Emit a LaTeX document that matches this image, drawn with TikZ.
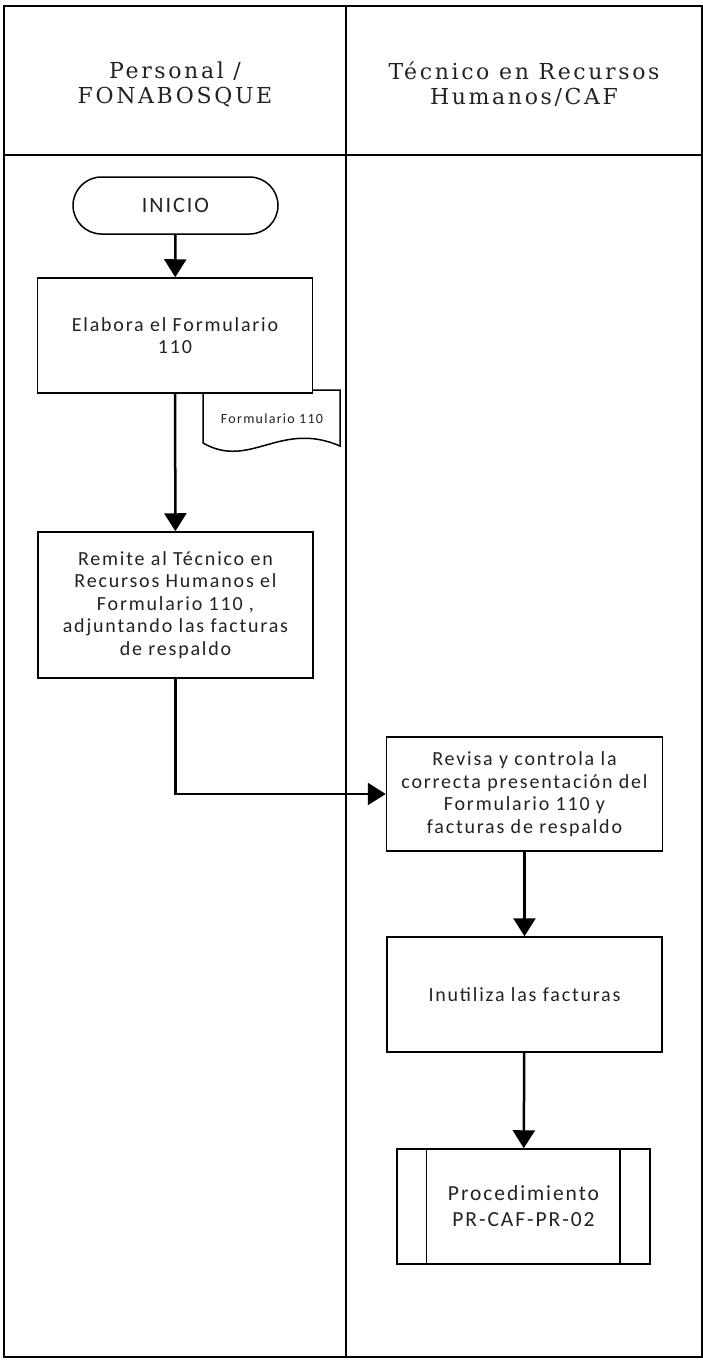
\documentclass[tikz,border=0pt]{standalone}
\usepackage{fontspec}
\setmainfont{Carlito}[LetterSpace=9]
\newfontfamily\hdrfont{DejaVu Serif}[LetterSpace=12]
\usetikzlibrary{arrows.meta}
\definecolor{ink}{HTML}{222222}
\begin{document}
\begin{tikzpicture}[x=1pt,y=-1pt,
  frame/.style={line width=2pt,draw=black},
  box/.style={draw=black,line width=1.5pt,fill=white,inner sep=0pt,align=center,
    text=ink,font=\fontsize{20}{22.5}\selectfont},
  flow/.style={line width=2.5pt,-{Triangle[width=22pt,length=18pt]}},
  hdr/.style={align=center,inner sep=0pt,text=ink,font=\hdrfont\fontsize{22}{25}\selectfont}]
\useasboundingbox (0,0) rectangle (703,1362);
% lanes
\draw[frame] (4,6) rectangle (702,1357);
\draw[frame] (4,155) -- (702,155);
\draw[frame] (345.5,6) -- (345.5,1357);
\node[hdr] (h1) at (175,84) {Personal /\\FONABOSQUE};
\node[hdr] (h2) at (524,84) {Técnico en Recursos\\Humanos/CAF};
% document shape
\draw[line width=1.5pt,fill=white] (203,390) -- (340,390) -- (340,446)
  .. controls (280,420) and (250,470) .. (203,443) -- cycle;
\node[inner sep=0pt,text=ink,font=\fontsize{14}{16}\selectfont] (doc) at (272,419) {Formulario 110};
% nodes
\node[box,minimum width=205pt,minimum height=57pt,rounded corners=28.5pt,
  font=\fontsize{22}{25}\selectfont] (ini) at (175.5,205.5) {INICIO};
\node[box,minimum width=275pt,minimum height=115pt] (b1) at (175,335.5)
  {Elabora el Formulario\\110};
\node[box,minimum width=275pt,minimum height=146pt] (b2) at (175.5,605)
  {Remite al Técnico en\\Recursos Humanos el\\Formulario 110 ,\\adjuntando las facturas\\de respaldo};
\node[box,minimum width=276pt,minimum height=114pt] (b3) at (524.5,794)
  {Revisa y controla la\\correcta presentación del\\Formulario 110 y\\facturas de respaldo};
\node[box,minimum width=275pt,minimum height=115pt] (b4) at (524.5,994.5)
  {Inutiliza las facturas};
\node[box,minimum width=253pt,minimum height=115pt,font=\fontsize{21.5}{26}\selectfont] (pr) at (523.5,1206.5)
  {Procedimiento\\PR-CAF-PR-02};
\draw[line width=1.5pt] ([xshift=30pt]pr.north west) -- ([xshift=30pt]pr.south west);
\draw[line width=1.5pt] ([xshift=-31pt]pr.north east) -- ([xshift=-31pt]pr.south east);
% connectors
\draw[flow] (ini) -- (b1);
\draw[flow] (b1) -- (b2);
\draw[flow] (b2.south) |- (b3.west);
\draw[flow] (b3) -- (b4);
\draw[flow] (b4) -- (pr);
\end{tikzpicture}
\end{document}
